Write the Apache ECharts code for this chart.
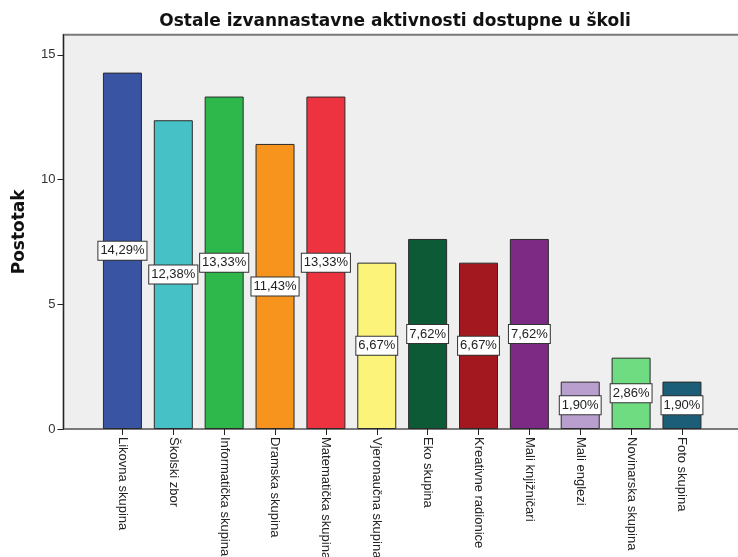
<!DOCTYPE html>
<html><head><meta charset="utf-8">
<script src="https://cdn.jsdelivr.net/npm/echarts@6/dist/echarts.min.js"></script>
<style>html,body{margin:0;padding:0;background:#fff}#c{width:738px;height:557px}</style>
</head><body><div id="c"></div>
<script>
const categories = ["Likovna skupina","Školski zbor","Informatička skupina","Dramska skupina","Matematička skupina","Vjeronaučna skupina","Eko skupina","Kreativne radionice","Mali knjižničari","Mali englezi","Novinarska skupina","Foto skupina"];
const values = [14.29,12.38,13.33,11.43,13.33,6.67,7.62,6.67,7.62,1.90,2.86,1.90];
const colors = ["#3a54a4","#46c1c6","#2eb84c","#f7941e","#ee3340","#fbf37a","#0d5a36","#a3181e","#7c2a84","#b89fcd","#70dc81","#1c5e78"];
const yTicks = [0,5,10,15];
const titleText = "Ostale izvannastavne aktivnosti dostupne u školi";
const yName = "Postotak";

const chart = echarts.init(document.getElementById('c'), null, {renderer:'canvas'});
const font = "'Liberation Sans', Arial, sans-serif";
chart.setOption({
  animation:false,
  backgroundColor:'#fff',
  title:{text:titleText,left:390,textAlign:'center',top:8,textStyle:{fontFamily:"'DejaVu Sans', sans-serif",fontWeight:'bold',fontSize:17,color:'#111'}},
  grid:[
    {left:63.5,right:-3,top:34.7,bottom:128,show:true,backgroundColor:'#efefef',borderColor:'#7a7a7a',borderWidth:2,outerBoundsMode:'none',containLabel:false},
    {left:97,right:30.6,top:34.7,bottom:128,outerBoundsMode:'none',containLabel:false}
  ],
  xAxis:[
    {gridIndex:0,type:'value',min:0,max:1,show:false},
    {gridIndex:1,type:'category',data:categories,boundaryGap:true,
     axisLine:{show:false},
     axisTick:{show:true,alignWithLabel:true,length:6,lineStyle:{color:'#222'}},
     axisLabel:{rotate:-90,margin:8,fontFamily:font,fontSize:13,color:'#222',interval:0}}
  ],
  yAxis:[
    {gridIndex:0,type:'value',min:0,max:15.81,interval:5,
     name:yName,nameLocation:'middle',nameGap:35,nameTextStyle:{fontFamily:"'DejaVu Sans', sans-serif",fontWeight:'bold',fontSize:17,color:'#111'},
     axisLine:{show:true,lineStyle:{color:'#222',width:1}},
     axisTick:{show:true,length:6,lineStyle:{color:'#222'}},
     axisLabel:{fontFamily:font,fontSize:13,color:'#333',margin:8,showMaxLabel:false,
       formatter:v=>yTicks.includes(v)?String(v):''},
     splitLine:{show:false}},
    {gridIndex:1,type:'value',min:0,max:15.81,show:false,splitLine:{show:false}}
  ],
  series:[
    {type:'bar',xAxisIndex:1,yAxisIndex:1,barWidth:39,
     data:values.map((v,i)=>({value:v,itemStyle:{color:colors[i]}})),
     itemStyle:{borderColor:'#2a2a2a',borderWidth:1},
     label:{show:true,position:'inside',formatter:p=>p.value.toFixed(2).replace('.',',')+'%',
       fontFamily:font,fontSize:13,color:'#222',backgroundColor:'#fff',borderColor:'#333',borderWidth:1,padding:[3,2,2,2]}}
  ]
});
</script></body></html>
